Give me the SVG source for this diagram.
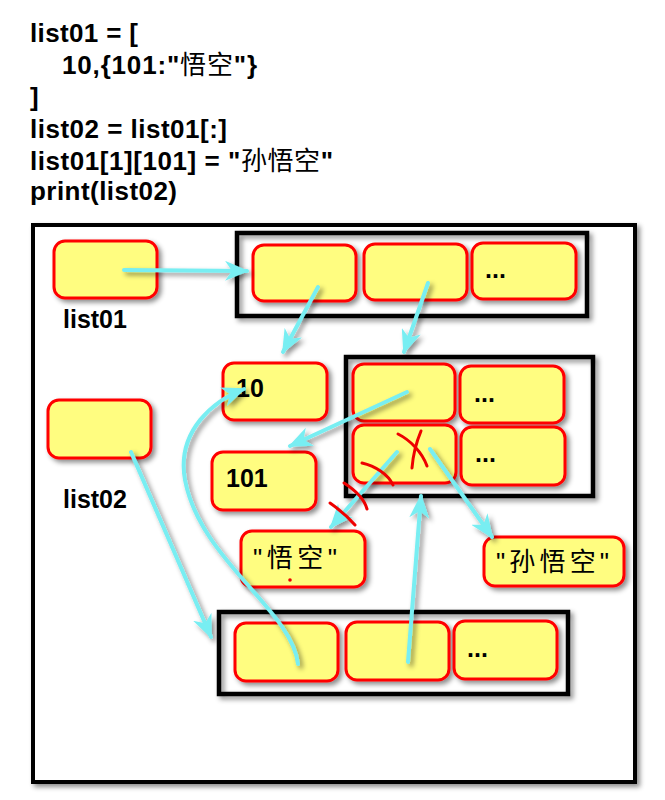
<svg xmlns="http://www.w3.org/2000/svg" width="665" height="800" viewBox="0 0 665 800">
<defs>
<filter id="sh" x="-20%" y="-20%" width="150%" height="150%">
<feDropShadow dx="3" dy="3" stdDeviation="2.5" flood-color="#000" flood-opacity="0.45"/>
</filter>
<marker id="ah" viewBox="0 0 12 10" refX="11" refY="5" markerWidth="6" markerHeight="5" orient="auto" markerUnits="strokeWidth">
<path d="M0,0 L12,5 L0,10 L3.5,5 z" fill="#78EEF2"/>
</marker>
<style>
.code{font-family:"Liberation Sans",Arial,"Noto Sans CJK SC",sans-serif;font-weight:bold;font-size:26px;fill:#000}
.cjk{font-family:"Liberation Sans",Arial,"Noto Sans CJK SC",sans-serif;font-size:26px;fill:#000}
.lbl{font-family:"Liberation Sans",Arial,sans-serif;font-weight:bold;font-size:25px;fill:#000}
.cell{fill:#FFFD80;stroke:#FF0000;stroke-width:3}
.frame{fill:none;stroke:#000;stroke-width:4.5}
.outer{fill:#fff;stroke:#000;stroke-width:4}
.con{fill:none;stroke:#78EEF2;stroke-width:4;stroke-linecap:round}
.mark{fill:none;stroke:#EE0000;stroke-width:3;stroke-linecap:round}
</style>
</defs>
<rect width="665" height="800" fill="#fff"/>
<g id="code">
<text class="code" x="30" y="42" textLength="108" lengthAdjust="spacing">list01 = [</text>
<text class="code" x="62" y="74" textLength="195" lengthAdjust="spacing">10,{101:"<tspan font-weight="normal">悟空</tspan>"}</text>
<text class="code" x="30" y="106">]</text>
<text class="code" x="30" y="138" textLength="197" lengthAdjust="spacing">list02 = list01[:]</text>
<text class="code" x="30" y="170" textLength="303" lengthAdjust="spacing">list01[1][101] = "<tspan font-weight="normal">孙悟空</tspan>"</text>
<text class="code" x="30" y="200" textLength="147" lengthAdjust="spacing">print(list02)</text>
</g>
<g id="outer"><rect class="outer" x="33" y="225" width="602" height="557" filter="url(#sh)"/></g>
<g id="list01"><rect class="cell" x="54" y="241" width="103" height="57" rx="11" filter="url(#sh)"/>
<text class="lbl" x="63" y="328">list01</text></g>
<g id="list02"><rect class="cell" x="48" y="400" width="103" height="58" rx="11" filter="url(#sh)"/>
<text class="lbl" x="63" y="508">list02</text></g>
<g id="top-list">
<rect class="frame" x="237" y="233" width="350" height="83" filter="url(#sh)"/>
<rect class="cell" x="253" y="245" width="103" height="56" rx="11" filter="url(#sh)"/>
<rect class="cell" x="364" y="244" width="103" height="56" rx="11" filter="url(#sh)"/>
<rect class="cell" x="472" y="243" width="104" height="56" rx="11" filter="url(#sh)"/>
<text class="lbl" x="485" y="278">...</text>
</g>
<g id="dict">
<rect class="frame" x="346" y="357" width="247" height="139" filter="url(#sh)"/>
<rect class="cell" x="353" y="364" width="102" height="57" rx="11" filter="url(#sh)"/>
<rect class="cell" x="460" y="366" width="104" height="57" rx="11" filter="url(#sh)"/>
<text class="lbl" x="474" y="402">...</text>
<rect class="cell" x="353" y="425" width="103" height="58" rx="11" filter="url(#sh)"/>
<rect class="cell" x="461" y="427" width="104" height="58" rx="11" filter="url(#sh)"/>
<text class="lbl" x="475" y="462">...</text>
</g>
<g id="n10"><rect class="cell" x="223" y="363" width="104" height="57" rx="11" filter="url(#sh)"/>
<text class="lbl" x="236" y="397">10</text></g>
<g id="n101"><rect class="cell" x="212" y="452" width="104" height="58" rx="11" filter="url(#sh)"/>
<text class="lbl" x="226" y="487">101</text></g>
<g id="wukong"><rect class="cell" x="241" y="531" width="124" height="56" rx="11" filter="url(#sh)"/>
<text class="cjk" x="253" y="567" textLength="84" lengthAdjust="spacing">"悟空"</text></g>
<g id="sunwukong"><rect class="cell" x="484" y="537" width="140" height="49" rx="11" filter="url(#sh)"/>
<text class="cjk" x="496" y="571" textLength="113" lengthAdjust="spacing">"孙悟空"</text></g>
<g id="bottom-list">
<rect class="frame" x="219" y="612" width="349" height="82" filter="url(#sh)"/>
<rect class="cell" x="235" y="623" width="103" height="58" rx="11" filter="url(#sh)"/>
<rect class="cell" x="346" y="622" width="103" height="58" rx="11" filter="url(#sh)"/>
<rect class="cell" x="454" y="621" width="103" height="58" rx="11" filter="url(#sh)"/>
<text class="lbl" x="467" y="657">...</text>
</g>
<g id="connectors" filter="url(#sh)">
<path class="con" d="M124,270 L247,271" marker-end="url(#ah)"/>
<path class="con" d="M318,287 L283,352" marker-end="url(#ah)"/>
<path class="con" d="M428,283 L404,352" marker-end="url(#ah)"/>
<path class="con" d="M407,392 L290,446" marker-end="url(#ah)"/>
<path class="con" d="M397,452 L331,527" marker-end="url(#ah)"/>
<path class="con" d="M430,449 L492,537" marker-end="url(#ah)"/>
<path class="con" d="M408,662 L421,496" marker-end="url(#ah)"/>
<path class="con" d="M131,452 L211,637" marker-end="url(#ah)"/>
<path class="con" d="M298,664 C292,610 200,560 185,480 C176,430 215,400 244,389" marker-end="url(#ah)"/>
</g>
<g id="marks">
<path class="mark" d="M398,434 C410,440 422,452 427,466"/>
<path class="mark" d="M421,431 C416,443 413,455 412,468"/>
<path class="mark" d="M362,463 C375,466 388,474 393,485"/>
<path class="mark" d="M344,483 C355,490 364,498 367,509"/>
<path class="mark" d="M330,503 C340,510 348,517 355,525"/>
<circle cx="290" cy="580" r="1.8" fill="#EE0000"/>
</g>
</svg>
